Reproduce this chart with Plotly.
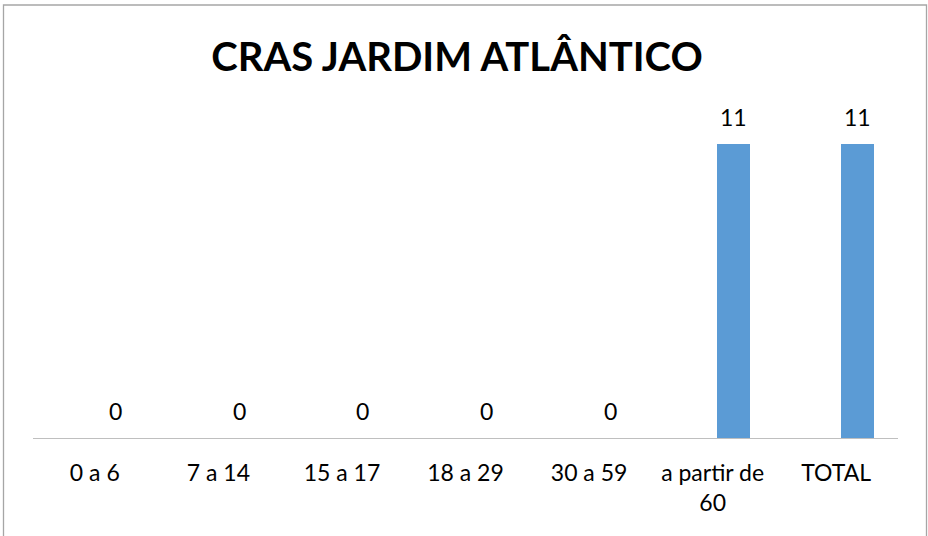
import plotly.graph_objects as go

categories = ["0 a 6", "7 a 14", "15 a 17", "18 a 29", "30 a 59", "a partir de<br>60", "TOTAL"]
values = [0, 0, 0, 0, 0, 11, 11]
title_text = "CRAS JARDIM ATLÂNTICO"

W, H = 928, 536
ml, mr, mt, mb = 33, 30, 117, 98
pw, ph = W - ml - mr, H - mt - mb

bar_offset = 0.036
bar_width = 0.267
xs = list(range(len(categories)))

fig = go.Figure()
fig.add_trace(go.Bar(
    x=xs, y=values, offset=bar_offset, width=bar_width,
    marker=dict(color="#5b9bd5", line=dict(width=0)),
    hoverinfo="skip", showlegend=False,
))

font_family = "Lato, 'Open Sans', sans-serif"
for i, v in zip(xs, values):
    fig.add_annotation(
        x=i + bar_offset + bar_width / 2, y=v, xref="x", yref="y",
        text=str(v), showarrow=False, yanchor="middle", yshift=27,
        font=dict(family=font_family, size=23, color="#000000"),
    )

def px_x(p):
    return (p - ml) / pw

def px_y(p):
    return (H - mb - p) / ph

fig.add_shape(
    type="rect", xref="paper", yref="paper",
    x0=px_x(3.5), x1=px_x(926.5), y0=px_y(545), y1=px_y(5),
    line=dict(color="#a6a6a6", width=1.3), fillcolor="rgba(0,0,0,0)",
    layer="below",
)

fig.update_layout(
    width=W, height=H,
    margin=dict(l=ml, r=mr, t=mt, b=mb, pad=0),
    paper_bgcolor="#ffffff", plot_bgcolor="#ffffff",
    title=dict(
        text="<b>" + title_text + "</b>",
        x=457 / W, xanchor="center", xref="container",
        y=1 - 57 / H, yanchor="middle", yref="container",
        font=dict(family=font_family, size=40, color="#000000"),
    ),
    xaxis=dict(
        range=[-0.5, len(categories) - 0.5],
        tickvals=xs, ticktext=categories,
        showline=True, linecolor="#bfbfbf", linewidth=1.3,
        showgrid=False, zeroline=False, ticks="",
        ticklabelstandoff=14,
        tickfont=dict(family=font_family, size=23, color="#000000"),
        fixedrange=True,
    ),
    yaxis=dict(
        range=[0, 12], visible=False, showgrid=False, zeroline=False,
        fixedrange=True,
    ),
    bargap=0,
)

fig.write_html(
    "out.html",
    config=dict(displayModeBar=False),
    post_script="document.body.style.margin='0';document.body.style.overflow='hidden';",
)
